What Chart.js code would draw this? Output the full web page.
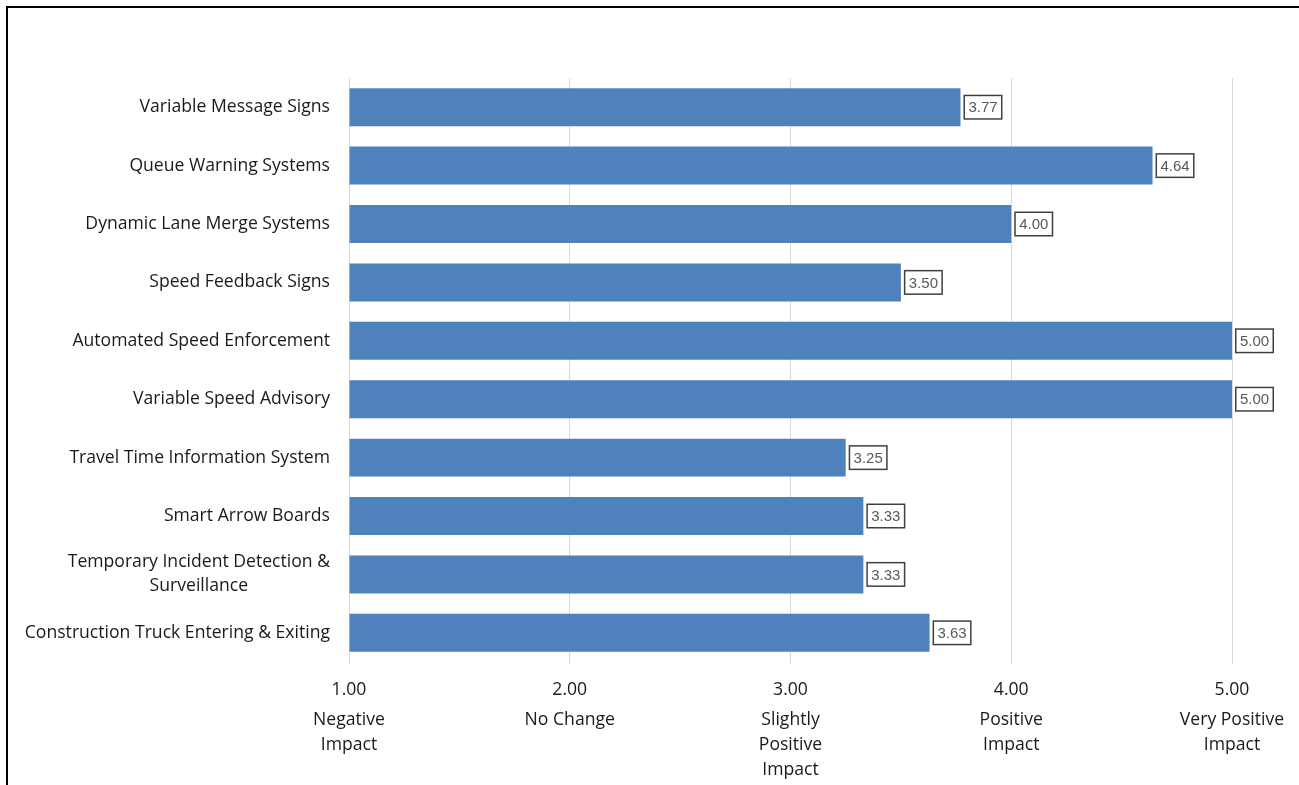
<!DOCTYPE html>
<html>
<head>
<meta charset="utf-8">
<script src="https://cdn.jsdelivr.net/npm/chart.js@4"></script>
<style>
  html, body { margin: 0; padding: 0; background: #fff; overflow: hidden; }
  .frame { position: absolute; left: 6px; top: 6px; width: 1400px; height: 900px;
           border-left: 2px solid #000; border-top: 2px solid #000; }
  .wrap { position: absolute; left: 0; top: 0; width: 1299px; height: 785px; }
</style>
</head>
<body>
<div class="frame"></div>
<div class="wrap"><canvas id="impactChart" width="1299" height="785"></canvas></div>
<script>
const categories = [
  ['Variable Message Signs'],
  ['Queue Warning Systems'],
  ['Dynamic Lane Merge Systems'],
  ['Speed Feedback Signs'],
  ['Automated Speed Enforcement'],
  ['Variable Speed Advisory'],
  ['Travel Time Information System'],
  ['Smart Arrow Boards'],
  ['Temporary Incident Detection &', 'Surveillance'],
  ['Construction Truck Entering & Exiting']
];
const scores = [3.77, 4.64, 4.00, 3.50, 5.00, 5.00, 3.25, 3.33, 3.33, 3.63];
const scaleTicks = [1, 2, 3, 4, 5];
const scaleNames = [
  ['Negative', 'Impact'],
  ['No Change'],
  ['Slightly', 'Positive', 'Impact'],
  ['Positive', 'Impact'],
  ['Very Positive', 'Impact']
];

const FONT = '"Open Sans", Lato, sans-serif';
const TEXT = '#1a1a1a';

// category names, each line centred within its block, block right-aligned
const categoryLabels = {
  id: 'categoryLabels',
  afterDraw(chart) {
    const { ctx, scales: { y } } = chart;
    ctx.save();
    ctx.font = '17.6px ' + FONT;
    ctx.fillStyle = TEXT;
    ctx.textAlign = 'center';
    ctx.textBaseline = 'middle';
    const right = y.right - 19, lh = 24;
    categories.forEach((lines, i) => {
      const cy = y.getPixelForTick(i);
      const w = Math.max(...lines.map(l => ctx.measureText(l).width));
      const cx = right - w / 2;
      lines.forEach((l, k) => {
        ctx.fillText(l, cx, cy + (k - (lines.length - 1) / 2) * lh);
      });
    });
    ctx.restore();
  }
};

// boxed value labels just past the end of each bar
const valueBoxes = {
  id: 'valueBoxes',
  afterDatasetsDraw(chart) {
    const { ctx } = chart;
    const meta = chart.getDatasetMeta(0);
    ctx.save();
    ctx.font = '15px "Liberation Sans", Arial, sans-serif';
    ctx.textAlign = 'center';
    ctx.textBaseline = 'middle';
    meta.data.forEach((bar, i) => {
      const txt = scores[i].toFixed(2);
      const x = bar.x + 3, w = 39, h = 25;
      ctx.fillStyle = '#fff';
      ctx.fillRect(x, bar.y - h / 2, w, h);
      ctx.strokeStyle = '#404040';
      ctx.lineWidth = 1.5;
      ctx.strokeRect(x + 0.75, bar.y - h / 2 + 0.75, w - 1.5, h - 1.5);
      ctx.fillStyle = '#595959';
      ctx.fillText(txt, x + w / 2, bar.y + 1);
    });
    ctx.restore();
  }
};

new Chart(document.getElementById('impactChart'), {
  type: 'bar',
  data: {
    labels: categories.map(c => c.join(' ')),
    datasets: [{
      data: scores,
      base: 1,
      backgroundColor: '#4f81bd',
      borderWidth: 0,
      barPercentage: 0.65,
      categoryPercentage: 1
    }]
  },
  options: {
    indexAxis: 'y',
    responsive: false,
    animation: false,
    layout: { padding: { left: 0, top: 78, right: 67, bottom: 2 } },
    plugins: { legend: { display: false }, tooltip: { enabled: false } },
    scales: {
      y: {
        grid: { display: false },
        border: { display: false },
        ticks: { display: false },
        afterFit: s => { s.width = 349; }
      },
      x: {
        min: 1, max: 5,
        afterBuildTicks: s => { s.ticks = scaleTicks.map(v => ({ value: v })); },
        afterFit: s => { s.height = 44; },
        grid: { color: '#d9d9d9', lineWidth: 1, drawTicks: true, tickLength: 2 },
        border: { display: false },
        ticks: { padding: 15, font: { family: FONT, size: 17.6 }, color: TEXT,
                 callback: v => v.toFixed(2) }
      },
      x2: {
        position: 'bottom',
        min: 1, max: 5,
        afterBuildTicks: s => { s.ticks = scaleTicks.map(v => ({ value: v })); },
        grid: { display: false, drawTicks: false },
        border: { display: false },
        ticks: { padding: 1, font: { family: FONT, size: 17.6, lineHeight: 1.42 }, color: TEXT,
                 callback: (v, i) => scaleNames[i] }
      }
    }
  },
  plugins: [categoryLabels, valueBoxes]
});
</script>
</body>
</html>
